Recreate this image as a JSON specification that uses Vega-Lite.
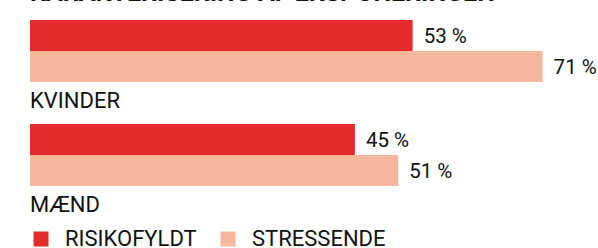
{
  "$schema": "https://vega.github.io/schema/vega-lite/v6.json",
  "autosize": {"type": "none"},
  "padding": {"left": 30, "top": 20, "right": 0, "bottom": 20},
  "width": 568,
  "height": 208,
  "title": {
    "text": "KARAKTERISERING AF EKSPONERINGEN",
    "anchor": "start",
    "baseline": "alphabetic",
    "offset": 6,
    "dy": 11.5,
    "font": "Roboto",
    "fontSize": 25,
    "fontWeight": "bold",
    "color": "#111111"
  },
  "data": {
    "values": [
      {"group": "KVINDER", "series": "RISIKOFYLDT", "value": 53, "label": "53 %"},
      {"group": "KVINDER", "series": "STRESSENDE", "value": 71, "label": "71 %"},
      {"group": "MÆND", "series": "RISIKOFYLDT", "value": 45, "label": "45 %"},
      {"group": "MÆND", "series": "STRESSENDE", "value": 51, "label": "51 %"}
    ]
  },
  "encoding": {
    "y": {
      "field": "group",
      "type": "nominal",
      "sort": ["KVINDER", "MÆND"],
      "scale": {"paddingInner": 0, "paddingOuter": 0},
      "axis": null
    }
  },
  "layer": [
    {
      "mark": {"type": "bar"},
      "encoding": {
        "x": {"field": "value", "type": "quantitative", "scale": {"domain": [0, 78.67], "nice": false, "zero": true}, "axis": null},
        "yOffset": {
          "field": "series",
          "type": "nominal",
          "sort": ["RISIKOFYLDT", "STRESSENDE"],
          "scale": {"paddingInner": 0, "paddingOuter": 0.677, "align": 0}
        },
        "color": {
          "field": "series",
          "type": "nominal",
          "sort": ["RISIKOFYLDT", "STRESSENDE"],
          "scale": {"domain": ["RISIKOFYLDT", "STRESSENDE"], "range": ["#e32b2b", "#f7b79c"]},
          "legend": {
            "title": null,
            "orient": "bottom",
            "direction": "horizontal",
            "offset": 0,
            "padding": 0,
            "symbolType": "square",
            "symbolSize": 225,
            "symbolStrokeWidth": 0,
            "symbolOpacity": 1,
            "labelFont": "Roboto",
            "labelFontSize": 22,
            "labelColor": "#111111",
            "labelOffset": 13,
            "columnPadding": 20,
            "labelLimit": 300
          }
        }
      }
    },
    {
      "mark": {"type": "text", "align": "left", "baseline": "middle", "dx": 11, "dy": 1, "font": "Roboto", "fontSize": 20.5, "color": "#111111"},
      "encoding": {
        "x": {"field": "value", "type": "quantitative"},
        "yOffset": {"field": "series", "type": "nominal", "sort": ["RISIKOFYLDT", "STRESSENDE"]},
        "text": {"field": "label"}
      }
    },
    {
      "transform": [{"filter": "datum.series === 'RISIKOFYLDT'"}],
      "mark": {"type": "text", "align": "left", "baseline": "alphabetic", "dy": 36, "font": "Roboto", "fontSize": 22, "color": "#111111"},
      "encoding": {
        "x": {"datum": 0},
        "text": {"field": "group"}
      }
    }
  ],
  "config": {
    "view": {"stroke": null}
  }
}
